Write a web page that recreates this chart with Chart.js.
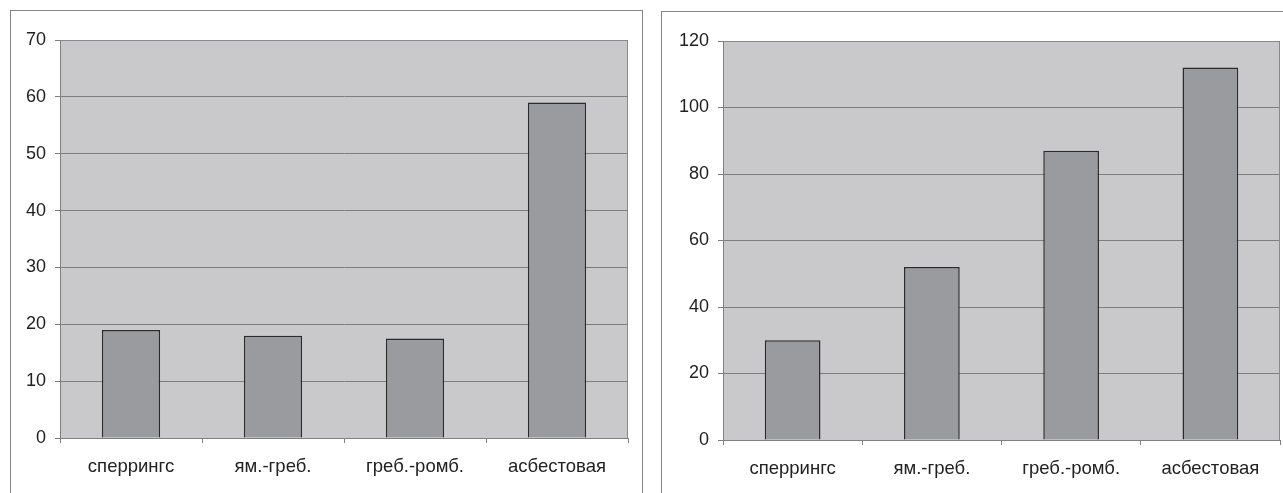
<!DOCTYPE html>
<html><head><meta charset="utf-8">
<script src="https://cdn.jsdelivr.net/npm/chart.js"></script>
<style>
html,body{margin:0;padding:0;background:#fff;width:1283px;height:493px;overflow:hidden;position:relative;}
.panel{position:absolute;border-left:1px solid #858585;border-top:1px solid #858585;border-right:1px solid #858585;box-sizing:border-box;}
canvas{position:absolute;}
</style></head><body>
<div class="panel" style="left:10px;top:10px;width:633px;height:490px;"></div>
<div class="panel" style="left:661px;top:11px;width:640px;height:490px;"></div>
<canvas id="c1" style="left:11px;top:11px;width:630px;height:482px;" width="630" height="482"></canvas>
<canvas id="c2" style="left:662px;top:12px;width:621px;height:481px;" width="621" height="481"></canvas>
<script>
const categories = ["сперрингс", "ям.-греб.", "греб.-ромб.", "асбестовая"];
const valuesLeft = [19, 18, 17.5, 59];
const valuesRight = [30, 52, 87, 112];
const ticksLeft = {max: 70, step: 10};
const ticksRight = {max: 120, step: 20};

const plotBg = {
  id: 'plotBg',
  beforeDraw(chart) {
    const a = chart.chartArea, ctx = chart.ctx;
    ctx.save();
    ctx.fillStyle = '#c9c9cb';
    ctx.fillRect(a.left, a.top, a.right - a.left, a.bottom - a.top);
    ctx.restore();
  },
  afterDatasetsDraw(chart) {
    const a = chart.chartArea, ctx = chart.ctx;
    ctx.save();
    ctx.strokeStyle = '#8a8a8a';
    ctx.lineWidth = 1;
    ctx.beginPath();
    ctx.moveTo(a.left + 0.5, a.top + 0.5);
    ctx.lineTo(a.right - 0.5, a.top + 0.5);
    ctx.lineTo(a.right - 0.5, a.bottom);
    ctx.stroke();
    ctx.restore();
  }
};

function make(id, values, t, pad, yWidth, xHeight, barPct) {
  new Chart(document.getElementById(id), {
    type: 'bar',
    data: {labels: categories, datasets: [{data: values, backgroundColor: '#9a9b9f', borderColor: '#2b2b2b', borderWidth: 1.5, barPercentage: barPct, categoryPercentage: 1}]},
    options: {
      responsive: false, animation: false,
      layout: {padding: pad},
      plugins: {legend: {display: false}, tooltip: {enabled: false}},
      scales: {
        x: {
          grid: {drawOnChartArea: false, drawTicks: true, tickLength: 5, offset: true, color: '#808080'},
          border: {color: '#808080', width: 1},
          ticks: {color: '#222', font: {family: 'Liberation Sans, Arial', size: 18.5}, padding: 13, maxRotation: 0},
          afterFit(s) { s.height = xHeight; }
        },
        y: {
          min: 0, max: t.max,
          grid: {color: '#7e7e7e', tickLength: 5, lineWidth: 1},
          border: {color: '#808080', width: 1},
          ticks: {stepSize: t.step, color: '#222', font: {family: 'Liberation Sans, Arial', size: 18}, padding: 9},
          afterFit(s) { s.width = yWidth; }
        }
      }
    },
    plugins: [plotBg]
  });
}
make('c1', valuesLeft, ticksLeft, {top: 29, right: 13, left: 0, bottom: 0}, 49, 55, 0.41);
make('c2', valuesRight, ticksRight, {top: 29, right: 3, left: 0, bottom: 0}, 61, 53, 0.40);
</script>
</body></html>
